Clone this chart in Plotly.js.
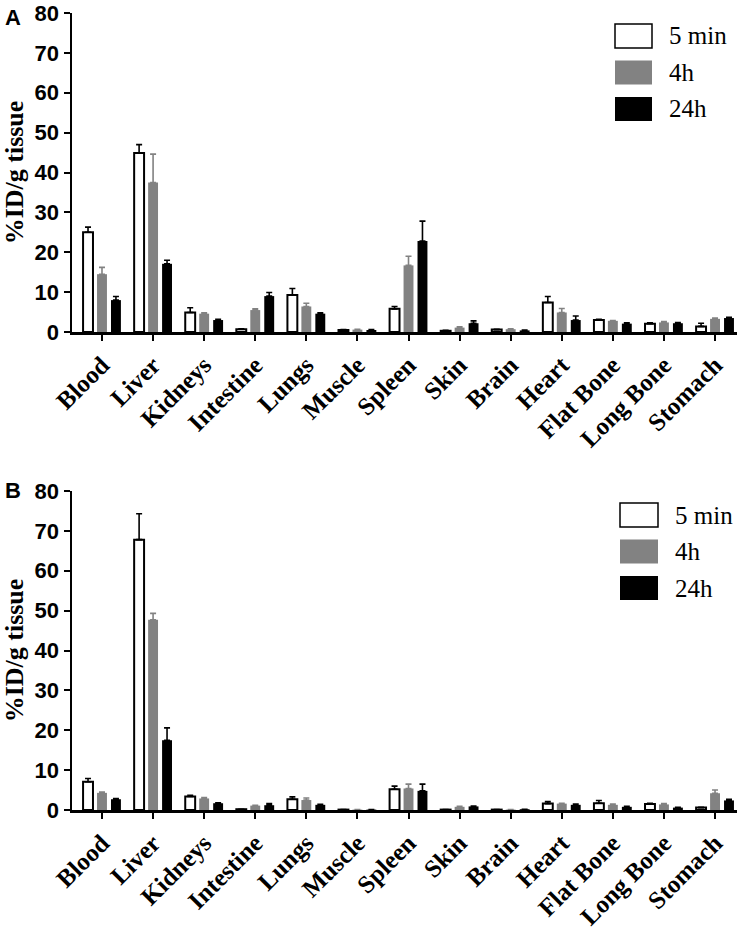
<!DOCTYPE html>
<html>
<head>
<meta charset="utf-8">
<script src="https://cdn.plot.ly/plotly-3.0.1.min.js"></script>
<style>html,body{margin:0;padding:0;background:#fff;}#chart{width:740px;height:933px;}</style>
</head>
<body>
<div id="chart"></div>
<script>
// ---- data ----
const categories = ['Blood','Liver','Kidneys','Intestine','Lungs','Muscle','Spleen','Skin','Brain','Heart','Flat Bone','Long Bone','Stomach'];
const seriesNames = ['5 min','4h','24h'];

// Panel A
const a5min    = [25.0, 44.9, 4.9, 0.7, 9.3, 0.5, 5.8, 0.3, 0.6, 7.4, 3.0, 2.1, 1.4];
const a5minErr = [1.3, 2.1, 1.2, 0.1, 1.6, 0.1, 0.6, 0.1, 0.1, 1.5, 0.2, 0.2, 0.8];
const a4h      = [14.5, 37.5, 4.6, 5.5, 6.4, 0.6, 16.7, 1.1, 0.7, 4.9, 2.8, 2.4, 3.3];
const a4hErr   = [1.7, 7.1, 0.2, 0.3, 0.8, 0.1, 2.3, 0.2, 0.1, 1.0, 0.1, 0.2, 0.2];
const a24h     = [8.0, 17.1, 3.0, 9.0, 4.6, 0.5, 22.8, 2.2, 0.4, 3.0, 2.1, 2.2, 3.5];
const a24hErr  = [0.9, 0.9, 0.2, 0.9, 0.2, 0.1, 5.0, 0.6, 0.1, 1.0, 0.2, 0.2, 0.2];

// Panel B
const b5min    = [7.1, 67.8, 3.4, 0.2, 2.7, 0.1, 5.2, 0.1, 0.1, 1.6, 1.7, 1.5, 0.6];
const b5minErr = [0.8, 6.5, 0.3, 0.0, 0.6, 0.0, 0.8, 0.0, 0.0, 0.5, 0.7, 0.2, 0.1];
const b4h      = [4.3, 47.7, 2.9, 1.1, 2.5, 0.1, 5.4, 0.8, 0.1, 1.6, 1.3, 1.4, 4.2];
const b4hErr   = [0.2, 1.6, 0.2, 0.1, 0.5, 0.0, 1.1, 0.1, 0.0, 0.1, 0.2, 0.2, 0.8];
const b24h     = [2.7, 17.5, 1.7, 1.2, 1.3, 0.1, 4.8, 0.9, 0.2, 1.3, 0.8, 0.6, 2.4];
const b24hErr  = [0.2, 3.1, 0.1, 0.4, 0.1, 0.0, 1.7, 0.1, 0.0, 0.2, 0.1, 0.1, 0.3];

const yTickVals = [0,10,20,30,40,50,60,70,80];
const yTitle = '%ID/g tissue';
const panelLabels = ['A','B'];

// ---- styles ----
const GRAY = '#828282';
const SERIF = 'Times New Roman';
const SANS = 'Arial';
const styles = [
  {fill:'#ffffff', line:'#000000', lw:2, err:'#000000'},
  {fill:GRAY, line:GRAY, lw:0, err:GRAY},
  {fill:'#000000', line:'#000000', lw:0, err:'#000000'}
];

function makeTrace(name, vals, errs, st, xa, ya){
  return {
    type:'bar', name:name, x:categories, y:vals, xaxis:xa, yaxis:ya,
    marker:{color:st.fill, line:{color:st.line, width:st.lw}},
    error_y:{type:'data', symmetric:false, array:errs, arrayminus:errs.map(()=>0),
             color:st.err, thickness:1.6, width:3},
    showlegend:false, hoverinfo:'x+y+name'
  };
}

const data = [
  makeTrace(seriesNames[0], a5min, a5minErr, styles[0], 'x', 'y'),
  makeTrace(seriesNames[1], a4h, a4hErr, styles[1], 'x', 'y'),
  makeTrace(seriesNames[2], a24h, a24hErr, styles[2], 'x', 'y'),
  makeTrace(seriesNames[0], b5min, b5minErr, styles[0], 'x2', 'y2'),
  makeTrace(seriesNames[1], b4h, b4hErr, styles[1], 'x2', 'y2'),
  makeTrace(seriesNames[2], b24h, b24hErr, styles[2], 'x2', 'y2')
];

// pixel helpers for the plot frame
const L = 72, R = 3, T = 13, B = 123, W = 740, H = 933;
const pw = W - L - R, ph = H - T - B;
const px = X => (X - L) / pw;
const py = Y => (H - B - Y) / ph;

const xTickFont = {family:SERIF, size:25, color:'#000', weight:'bold'};
const yTickFont = {family:SANS, size:22, color:'#000', weight:'bold'};

function xAxis(anchor){
  return {
    anchor:anchor, domain:[0,1], type:'category', range:[-0.587, 12.43],
    showline:true, linecolor:'#000', linewidth:2.5, mirror:false,
    ticks:'outside', ticklen:6, tickwidth:2, tickcolor:'#000',
    tickangle:-45, tickfont:xTickFont, showgrid:false, zeroline:false, automargin:false
  };
}
function yAxis(anchor, domain){
  return {
    anchor:anchor, domain:domain, range:[0,80], tickvals:yTickVals,
    showline:true, linecolor:'#000', linewidth:2.5,
    ticks:'outside', ticklen:6, tickwidth:2, tickcolor:'#000',
    tickfont:yTickFont, showgrid:false, zeroline:false, automargin:false,
    title:{text:yTitle, font:{family:SERIF, size:26, color:'#000', weight:'bold'}, standoff:5}
  };
}

const shapes = [];
const annotations = [];
function legendAt(x0, y0, boxW, boxH, step, textX){
  seriesNames.forEach((nm, i) => {
    const st = styles[i];
    const top = y0 + i*step;
    shapes.push({type:'rect', xref:'paper', yref:'paper',
      x0:px(x0), x1:px(x0+boxW), y0:py(top+boxH), y1:py(top),
      fillcolor:st.fill, line:{color: i===0 ? '#000' : st.fill, width: i===0 ? 1.5 : 0}});
    annotations.push({xref:'paper', yref:'paper', x:px(textX), y:py(top+boxH/2),
      xanchor:'left', yanchor:'middle', showarrow:false, text:nm,
      font:{family:SERIF, size:25, color:'#000', weight:400}});
  });
}
legendAt(615, 24, 37, 24, 36.5, 667);
legendAt(620, 503, 38, 24, 36.5, 673);

annotations.push({xref:'paper', yref:'paper', x:px(13), y:py(17), xanchor:'center', yanchor:'middle',
  text:panelLabels[0], showarrow:false, font:{family:SANS, size:22, color:'#000', weight:'bold'}});
annotations.push({xref:'paper', yref:'paper', x:px(13), y:py(490), xanchor:'center', yanchor:'middle',
  text:panelLabels[1], showarrow:false, font:{family:SANS, size:22, color:'#000', weight:'bold'}});

const layout = {
  width:W, height:H, margin:{l:L, r:R, t:T, b:B, pad:0},
  paper_bgcolor:'#fff', plot_bgcolor:'#fff',
  font:{family:SERIF, color:'#000'},
  barmode:'group', bargap:0.18, bargroupgap:0.29,
  showlegend:false,
  xaxis: xAxis('y'),
  yaxis: yAxis('x', [py(332), 1]),
  xaxis2: xAxis('y2'),
  yaxis2: yAxis('x2', [0, py(491)]),
  shapes: shapes,
  annotations: annotations
};

Plotly.newPlot('chart', data, layout, {staticPlot:true, displayModeBar:false});
</script>
</body>
</html>
